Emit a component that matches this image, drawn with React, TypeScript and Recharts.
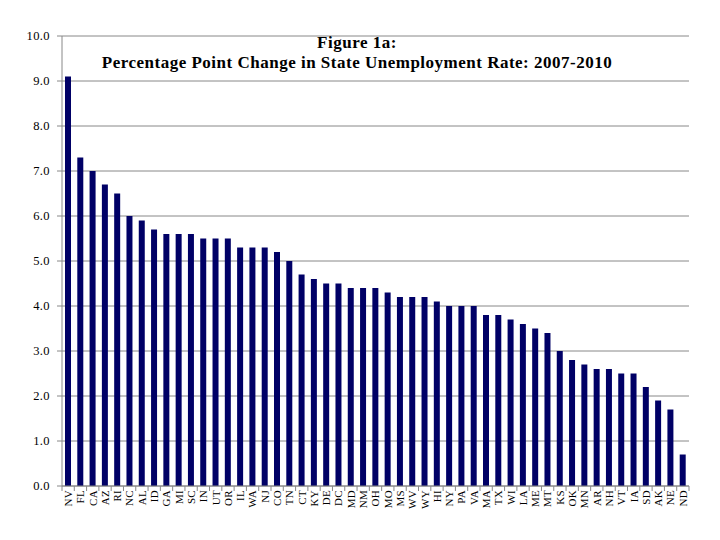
import { BarChart, Bar, XAxis, YAxis, CartesianGrid } from "recharts";

const states = [
  "NV", "FL", "CA", "AZ", "RI", "NC", "AL", "ID", "GA", "MI", "SC", "IN", "UT",
  "OR", "IL", "WA", "NJ", "CO", "TN", "CT", "KY", "DE", "DC", "MD", "NM", "OH",
  "MO", "MS", "WV", "WY", "HI", "NY", "PA", "VA", "MA", "TX", "WI", "LA", "ME",
  "MT", "KS", "OK", "MN", "AR", "NH", "VT", "IA", "SD", "AK", "NE", "ND",
];

const changes = [
  9.1, 7.3, 7.0, 6.7, 6.5, 6.0, 5.9, 5.7, 5.6, 5.6, 5.6, 5.5, 5.5,
  5.5, 5.3, 5.3, 5.3, 5.2, 5.0, 4.7, 4.6, 4.5, 4.5, 4.4, 4.4, 4.4,
  4.3, 4.2, 4.2, 4.2, 4.1, 4.0, 4.0, 4.0, 3.8, 3.8, 3.7, 3.6, 3.5,
  3.4, 3.0, 2.8, 2.7, 2.6, 2.6, 2.5, 2.5, 2.2, 1.9, 1.7, 0.7,
];

const yTicks = [0, 1, 2, 3, 4, 5, 6, 7, 8, 9, 10];

const data = states.map((state, i) => ({ state, value: changes[i] }));

const FONT = "'Liberation Serif', 'Times New Roman', serif";
const AXIS = "#888888";
const PLOT_LEFT = 62;
const PLOT_RIGHT = 689;
const PLOT_BOTTOM = 486;
const BAND = (PLOT_RIGHT - PLOT_LEFT) / states.length;

// state label rotated bottom-to-top, with tick marks between categories
function StateTick(props: any) {
  const { x, payload, index } = props;
  const y = PLOT_BOTTOM;
  return (
    <g>
      {index === 0 && (
        <line x1={x - BAND / 2} y1={y} x2={x - BAND / 2} y2={y + 5} stroke={AXIS} />
      )}
      <line x1={x + BAND / 2} y1={y} x2={x + BAND / 2} y2={y + 5} stroke={AXIS} />
      <text
        x={x}
        y={y + 4}
        transform={`rotate(-90, ${x}, ${y + 4})`}
        textAnchor="end"
        dy="0.35em"
        fontSize={11}
        letterSpacing={0.3}
        fontFamily={FONT}
        fill="#000"
      >
        {payload.value}
      </text>
    </g>
  );
}

export default function App() {
  return (
    <div
      style={{
        position: "absolute",
        left: 0,
        top: 0,
        width: 720,
        height: 540,
        background: "#fff",
      }}
    >
      <BarChart
        width={720}
        height={540}
        data={data}
        margin={{ top: 36, right: 720 - PLOT_RIGHT, left: 0, bottom: 0 }}
      >
        <CartesianGrid vertical={false} stroke={AXIS} strokeWidth={1} />
        <XAxis
          dataKey="state"
          interval={0}
          height={540 - PLOT_BOTTOM}
          tickLine={false}
          axisLine={{ stroke: AXIS }}
          tick={<StateTick />}
        />
        <YAxis
          width={PLOT_LEFT}
          domain={[0, 10]}
          ticks={yTicks}
          tickFormatter={(v: number) => v.toFixed(1)}
          axisLine={{ stroke: AXIS }}
          tickLine={{ stroke: AXIS }}
          tickSize={5}
          tickMargin={7}
          tick={{ fill: "#000", fontSize: 12.5, fontFamily: FONT, letterSpacing: 0.4 }}
        />
        <Bar dataKey="value" fill="#000066" barSize={6} isAnimationActive={false} />
      </BarChart>
      <div
        style={{
          position: "absolute",
          left: 0,
          top: 33,
          width: 714,
          textAlign: "center",
          fontFamily: FONT,
          fontWeight: "bold",
          fontSize: 17,
          letterSpacing: 0.5,
          lineHeight: "20px",
          color: "#000",
        }}
      >
        Figure 1a:
        <br />
        Percentage Point Change in State Unemployment Rate: 2007-2010
      </div>
    </div>
  );
}
